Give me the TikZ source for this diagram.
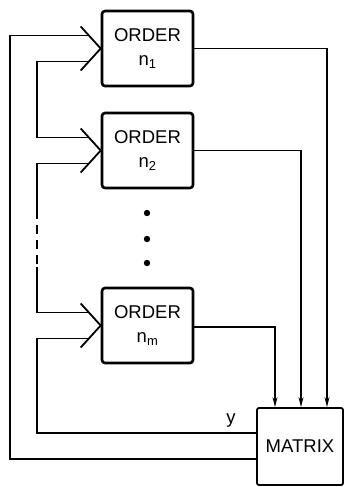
\documentclass[tikz,border=0pt]{standalone}
\usepackage{fontspec}
\setmainfont{Liberation Sans}
\usepackage{tikz}
\usetikzlibrary{arrows.meta}

\begin{document}
\begin{tikzpicture}[x=1pt, y=1pt,
    orderbox/.style={draw, line width=2.6pt, rectangle, rounded corners=3pt, minimum width=91pt, minimum height=75pt, align=center, font=\fontsize{18.5}{24}\selectfont},
    matrixbox/.style={draw, line width=1.8pt, rectangle, rounded corners=2pt, minimum width=86pt, minimum height=77pt, font=\fontsize{18.5}{22}\selectfont},
    wire/.style={line width=1.5pt},
    vtip/.style={line width=1.8pt, line join=miter},
    feed/.style={line width=1.5pt, -{Stealth[length=10pt, width=5pt]}},
    lbl/.style={font=\fontsize{18.5}{22}\selectfont}]
  \useasboundingbox (0,0) rectangle (346,487);

  % Nodes
  \node[orderbox] (order1) at (147.5,438.5) {ORDER\\n\textsubscript{1}};
  \node[orderbox] (order2) at (147.5,336.5) {ORDER\\n\textsubscript{2}};
  \node[orderbox] (orderm) at (147.5,161.5) {ORDER\\n\textsubscript{m}};
  \node[matrixbox] (matrix) at (300,40.5) {MATRIX};
  \node[lbl] (ylab) at (231,66) {y};

  % dots between the boxes
  \fill (147,274) circle (3.2pt);
  \fill (147,248) circle (3.2pt);
  \fill (147,224) circle (3.2pt);

  % open input tips
  \draw[vtip] ([shift={(-20,22)}]order1.west) -- (order1.west) -- ([shift={(-20,-22)}]order1.west);
  \draw[vtip] ([shift={(-20,22)}]order2.west) -- (order2.west) -- ([shift={(-20,-22)}]order2.west);
  \draw[vtip] ([shift={(-20,22)}]orderm.west) -- (orderm.west) -- ([shift={(-20,-22)}]orderm.west);

  % points where the lines meet the tips
  \coordinate (in1a) at ([shift={(-12,13)}]order1.west);
  \coordinate (in1b) at ([shift={(-12,-13)}]order1.west);
  \coordinate (in2a) at ([shift={(-12,13)}]order2.west);
  \coordinate (in2b) at ([shift={(-12,-13)}]order2.west);
  \coordinate (inma) at ([shift={(-12,13)}]orderm.west);
  \coordinate (inmb) at ([shift={(-12,-13)}]orderm.west);
  \coordinate (mxlow) at ([yshift=-12.5pt]matrix.west);
  \coordinate (mxy) at ([yshift=13.5pt]matrix.west);
  \coordinate (outer) at (10,0);
  \coordinate (inner) at (37,0);
  \coordinate (dashtop) at (37,277);
  \coordinate (dashbot) at (37,220);

  % Outputs into the matrix
  \draw[feed] (order1.east) -| ([xshift=27pt]matrix.north);
  \draw[feed] (order2.east) -| ([xshift=1pt]matrix.north);
  \draw[feed] ([yshift=-1.5pt]orderm.east) -| ([xshift=-25pt]matrix.north);

  % Feedback lines
  \draw[wire] (mxlow) -| (outer |- in1a) -- (in1a);
  \draw[wire] (mxy) -| (inner |- inmb) -- (inmb);
  \draw[wire] (in1b) -| (inner |- in2a) -- (in2a);
  \draw[wire] (in2b) -| (dashtop);
  \draw[wire, dash pattern=on 9pt off 6pt] (dashtop) -- (dashbot);
  \draw[wire] (dashbot) |- (inma);
\end{tikzpicture}
\end{document}
